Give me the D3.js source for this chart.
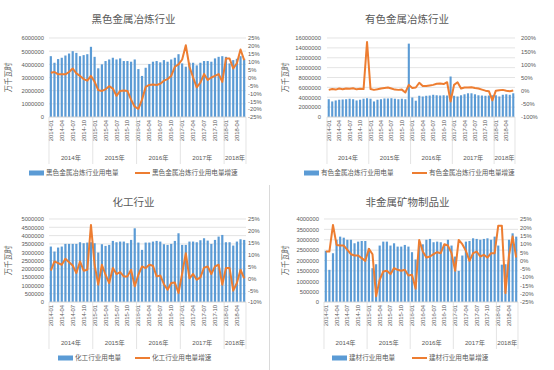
<!DOCTYPE html>
<html>
<head>
<meta charset="utf-8">
<script src="https://cdn.jsdelivr.net/npm/d3@7"></script>
<style>
  body { margin: 0; background: #fff; }
  svg { display: block; font-family: "Liberation Sans", "Noto Sans CJK SC", sans-serif; }
</style>
</head>
<body>
<svg id="chart" width="554" height="370"></svg>
<script>
// categories: 2014-01 ... 2018-06
const years = ["2014年", "2015年", "2016年", "2017年", "2018年"];
const months = [];
[2014, 2015, 2016, 2017].forEach(y => {
    for (let m = 1; m <= 12; m++) months.push(y + "-" + String(m).padStart(2, "0"));
});
for (let m = 1; m <= 6; m++) months.push("2018-" + String(m).padStart(2, "0"));

// 黑色金属冶炼 (万千瓦时, 增速 %)
const steelPower = [4.62, 4.12, 4.4, 4.5, 4.67, 4.82, 5.0, 4.87, 4.62, 4.7, 4.77, 5.33,
    4.57, 3.7, 4.0, 4.25, 4.37, 4.5, 4.37, 4.45, 4.25, 4.25, 4.2, 4.37,
    3.64, 3.12, 3.74, 4.02, 4.2, 4.25, 4.15, 4.32, 4.2, 4.37, 4.5, 4.77,
    4.07, 3.82, 4.12, 4.12, 3.92, 4.12, 4.25, 4.25, 4.2, 4.45, 4.57, 4.62,
    4.57, 4.07, 4.32, 4.42, 4.62, 4.42].map(v => v * 1e6);
const steelGrowth = [3, 3.5, 2, 2, 2, 3.5, 5.7, 2.6, 1, -1, -2, 1,
    -2.6, -8, -8.5, -7.5, -5.5, -7, -11.6, -8.5, -8.2, -8.5, -14, -18.5,
    -19.8, -14, -6, -4.7, -4.5, -4.7, -4, -2, -1, 1, 6.8, 8.3,
    11.4, 20.4, 6.8, 0, -6.2, -3.2, 2.2, -1.6, 0, 1, 2.2, -2.8,
    12, 12, 5.7, 9, 17.7, 11];
const steelTicksL = [0, 1000000, 2000000, 3000000, 4000000, 5000000, 6000000];
const steelTicksR = [-25, -20, -15, -10, -5, 0, 5, 10, 15, 20, 25];

// 有色金属冶炼
const metalPower = [3.6, 3.15, 3.35, 3.5, 3.55, 3.6, 3.7, 3.6, 3.35, 3.5, 3.7, 3.8,
    3.7, 3.15, 3.5, 3.6, 3.75, 3.75, 3.8, 3.7, 3.6, 3.7, 3.6, 14.86,
    3.95, 3.3, 4.3, 4.15, 4.3, 4.35, 4.5, 4.4, 4.35, 4.4, 4.35, 8.2,
    4.3, 4.15, 4.4, 4.6, 4.8, 4.8, 4.6, 4.4, 4.35, 4.3, 4.35, 4.4,
    4.4, 4.15, 4.5, 4.6, 4.5, 4.8].map(v => v * 1e6);
const metalGrowth = [3, 6, 4, 8, 5, 8, 7, 9, 5, 7, 6, 185,
    6, 3, 5, 8, 10, 12, 8, 4, 3, 4, -7, 22,
    10, 12, 30, 18, 18, 20, 22, 26, 27, 25, 32, -41,
    22, 32, 8, 12, 12, 13, 10, 8, 4, 0, -2, -37,
    0, 2, 3, 0, -2, 1];
const metalTicksL = [0, 2000000, 4000000, 6000000, 8000000, 10000000, 12000000, 14000000, 16000000];
const metalTicksR = [-100, -50, 0, 50, 100, 150, 200];

// 化工
const chemPower = [3.34, 3.04, 3.28, 3.34, 3.5, 3.5, 3.5, 3.5, 3.6, 3.54, 3.58, 3.6,
    3.54, 2.98, 3.48, 3.38, 3.44, 3.68, 3.6, 3.64, 3.64, 3.54, 3.74, 4.44,
    3.58, 3.14, 3.58, 3.58, 3.64, 3.68, 3.64, 3.48, 3.44, 3.5, 3.68, 4.14,
    3.44, 3.44, 3.64, 3.64, 3.6, 3.72, 3.84, 3.7, 3.5, 3.74, 3.94, 4.04,
    3.6, 3.6, 3.4, 3.64, 3.78, 3.74].map(v => v * 1e6);
const chemGrowth = [3.2, 7.1, 6.4, 5.7, 8.2, 6.8, 5.4, 2.2, 7.1, 3.2, 3.6, 22.5,
    5.7, -2.7, 5.7, 1.5, -2, 4.3, 1.8, 2.6, 0.8, 0.8, 3.6, -3.4,
    1.5, 5, 4.3, 5.7, 5.3, 0.8, 1.2, -2.5, -4.8, -2, -1.8, -6.2,
    2, 10.6, 0, 1.8, -0.6, 0.4, 4.5, 5, 1.8, 5, 5.7, -2.7,
    4.3, 4.3, -5.2, -2, 3.6, 0];
const chemTicksL = [0, 500000, 1000000, 1500000, 2000000, 2500000, 3000000, 3500000, 4000000, 4500000, 5000000];
const chemTicksR = [-10, -5, 0, 5, 10, 15, 20, 25];

// 非金属矿物制品 (建材)
const buildPower = [2.46, 1.55, 2.35, 3.0, 3.15, 3.1, 3.0, 3.0, 2.83, 2.91, 2.94, 2.94,
    2.6, 1.63, 1.82, 2.72, 2.91, 2.91, 2.72, 2.83, 2.67, 2.67, 2.75, 2.67,
    2.4, 2.05, 2.72, 2.78, 3.0, 3.04, 2.88, 2.91, 2.88, 2.75, 3.0, 2.72,
    2.19, 1.5, 2.24, 2.91, 2.94, 3.07, 3.04, 3.0, 3.04, 3.07, 3.0, 3.15,
    2.72, 1.8, 1.82, 3.0, 3.31, 3.15].map(v => v * 1e6);
const buildGrowth = [5.4, 5.4, 21.4, 9.4, 9, 9, 6.4, 3.8, 3, 3, 1.4, -0.2,
    7, 3.8, -21.6, -11.6, -6.6, -6.2, -8.2, -4.6, -5.6, -6.2, -5.6, -9,
    -8.6, -17, 12.4, 5.4, 1.8, 2.4, 3.8, 5, 4.4, 9.8, 9, 4.4,
    -6.2, 12.4, 9.8, 5.8, -0.2, 4.4, 5.4, 2.4, 3.4, 1.8, 4.4, 4.4,
    21, 21, -19.6, 3.4, 14.4, 1.8];
const buildTicksL = [0, 500000, 1000000, 1500000, 2000000, 2500000, 3000000, 3500000, 4000000];
const buildTicksR = [-25, -20, -15, -10, -5, 0, 5, 10, 15, 20, 25];

const barColor = "#5b9bd5";
const lineColor = "#ed7d31";
const textColor = "#595959";
const gridColor = "#d9d9d9";

const svg = d3.select("#chart");

function drawPanel(p) {
    const g = svg.append("g").attr("transform", `translate(${p.ox}, ${p.oy})`);

    const x = d3.scaleBand()
        .domain(months)
        .range([p.left, p.right])
        .paddingInner(0.4)
        .paddingOuter(0.2);
    const yL = d3.scaleLinear().domain(d3.extent(p.ticksL)).range([p.bottom, p.top]);
    const yR = d3.scaleLinear().domain(d3.extent(p.ticksR)).range([p.bottom, p.top]);

    // Title
    g.append("text")
        .attr("x", p.titleX)
        .attr("y", p.titleY)
        .attr("text-anchor", "middle")
        .attr("font-size", 10.5)
        .attr("fill", textColor)
        .text(p.title);

    // Gridlines
    g.append("g").selectAll("line")
        .data(p.ticksL)
        .join("line")
        .attr("x1", p.left)
        .attr("x2", p.right)
        .attr("y1", d => yL(d))
        .attr("y2", d => yL(d))
        .attr("stroke", gridColor)
        .attr("stroke-width", 0.7);

    // Left axis
    const axL = g.append("g")
        .attr("transform", `translate(${p.left}, 0)`)
        .call(d3.axisLeft(yL).tickValues(p.ticksL).tickSize(0).tickPadding(p.left - p.labelL).tickFormat(d3.format("d")));
    axL.select(".domain").remove();
    axL.attr("font-family", null).attr("font-size", 5.8).style("color", textColor);

    // Right axis
    const axR = g.append("g")
        .attr("transform", `translate(${p.right}, 0)`)
        .call(d3.axisRight(yR).tickValues(p.ticksR).tickSize(0).tickPadding(p.labelR - p.right).tickFormat(d => d + "%"));
    axR.select(".domain").remove();
    axR.attr("font-family", null).attr("font-size", 5.8).style("color", textColor);

    // Y axis title
    g.append("text")
        .attr("transform", `translate(${p.yTitleX}, ${(p.top + p.bottom) / 2}) rotate(-90)`)
        .attr("text-anchor", "middle")
        .attr("font-size", 7.5)
        .attr("fill", textColor)
        .text("万千瓦时");

    // Bars
    g.append("g").selectAll("rect")
        .data(p.bars)
        .join("rect")
        .attr("x", (d, i) => x(months[i]))
        .attr("width", x.bandwidth())
        .attr("y", d => yL(d))
        .attr("height", d => yL(0) - yL(d))
        .attr("fill", barColor);

    // Growth line
    const line = d3.line()
        .x((d, i) => x(months[i]) + x.bandwidth() / 2)
        .y(d => yR(d));
    g.append("path")
        .datum(p.growth)
        .attr("d", line)
        .attr("fill", "none")
        .attr("stroke", lineColor)
        .attr("stroke-width", 2)
        .attr("stroke-linejoin", "round");

    // Category axis: month labels every 3rd month
    g.append("g").selectAll("text")
        .data(months.filter((m, i) => i % 3 === 0))
        .join("text")
        .attr("transform", d => `translate(${x(d) + x.bandwidth() / 2}, ${p.bottom + 3}) rotate(-90)`)
        .attr("dy", "0.35em")
        .attr("text-anchor", "end")
        .attr("font-size", 5.8)
        .attr("fill", textColor)
        .text(d => d);

    // Year groups
    const step = x.step();
    const bounds = [0, 12, 24, 36, 48].map(k => p.left + step * k).concat([p.right]);
    g.append("g").selectAll("line")
        .data(bounds)
        .join("line")
        .attr("x1", d => d)
        .attr("x2", d => d)
        .attr("y1", p.bottom)
        .attr("y2", p.bottom + 47)
        .attr("stroke", gridColor)
        .attr("stroke-width", 0.7);
    g.append("line")
        .attr("x1", p.left)
        .attr("x2", p.right)
        .attr("y1", p.bottom)
        .attr("y2", p.bottom)
        .attr("stroke", gridColor)
        .attr("stroke-width", 0.8);

    g.append("g").selectAll("text")
        .data(years)
        .join("text")
        .attr("x", (d, k) => (bounds[k] + bounds[k + 1]) / 2)
        .attr("y", p.bottom + 43)
        .attr("text-anchor", "middle")
        .attr("font-size", 6.2)
        .attr("fill", textColor)
        .text(d => d);

    // Legend
    const lg = g.append("g").attr("transform", `translate(0, ${p.legendY})`);
    lg.append("rect")
        .attr("x", p.legend.rectX)
        .attr("y", -2.5)
        .attr("width", 15)
        .attr("height", 5)
        .attr("fill", barColor);
    lg.append("text")
        .attr("x", p.legend.rectX + 17)
        .attr("dy", "0.35em")
        .attr("font-size", 6.6)
        .attr("fill", textColor)
        .text(p.legend.barLabel);
    lg.append("line")
        .attr("x1", 135)
        .attr("x2", 150)
        .attr("stroke", lineColor)
        .attr("stroke-width", 2);
    lg.append("text")
        .attr("x", 152)
        .attr("dy", "0.35em")
        .attr("font-size", 6.6)
        .attr("fill", textColor)
        .text(p.legend.lineLabel);

    // Chart frame edge (right side of pasted chart image)
    if (p.frameX) {
        g.append("line")
            .attr("x1", p.frameX)
            .attr("x2", p.frameX)
            .attr("y1", 0)
            .attr("y2", 185)
            .attr("stroke", "#d0d0d0")
            .attr("stroke-width", 0.8);
    }
}

drawPanel({
    ox: 0, oy: 0, title: "黑色金属冶炼行业", titleX: 133.5, titleY: 22.5,
    left: 49, right: 246, top: 38, bottom: 117, labelL: 44, labelR: 248, yTitleX: 11,
    bars: steelPower, growth: steelGrowth, ticksL: steelTicksL, ticksR: steelTicksR,
    legendY: 173,
    legend: { rectX: 29, barLabel: "黑色金属冶炼行业用电量", lineLabel: "黑色金属冶炼行业用电量增速" }
});

drawPanel({
    ox: 277, oy: 0, title: "有色金属冶炼行业", titleX: 130, titleY: 22.5,
    left: 50, right: 238, top: 38, bottom: 117, labelL: 44, labelR: 244, yTitleX: 11,
    bars: metalPower, growth: metalGrowth, ticksL: metalTicksL, ticksR: metalTicksR,
    legendY: 173,
    legend: { rectX: 27, barLabel: "有色金属冶炼行业用电量", lineLabel: "有色金属冶炼行业用电量增速" }
});

drawPanel({
    ox: 0, oy: 185, title: "化工行业", titleX: 133.5, titleY: 20.5,
    left: 49, right: 246, top: 34, bottom: 117, labelL: 44, labelR: 248, yTitleX: 11,
    bars: chemPower, growth: chemGrowth, ticksL: chemTicksL, ticksR: chemTicksR,
    legendY: 173, frameX: 269.5,
    legend: { rectX: 58, barLabel: "化工行业用电量", lineLabel: "化工行业用电量增速" }
});

drawPanel({
    ox: 277, oy: 185, title: "非金属矿物制品业", titleX: 130.5, titleY: 20.5,
    left: 47, right: 241, top: 34, bottom: 117, labelL: 42, labelR: 243, yTitleX: 11,
    bars: buildPower, growth: buildGrowth, ticksL: buildTicksL, ticksR: buildTicksR,
    legendY: 173,
    legend: { rectX: 55, barLabel: "建材行业用电量", lineLabel: "建材行业用电量增速" }
});
</script>
</body>
</html>
